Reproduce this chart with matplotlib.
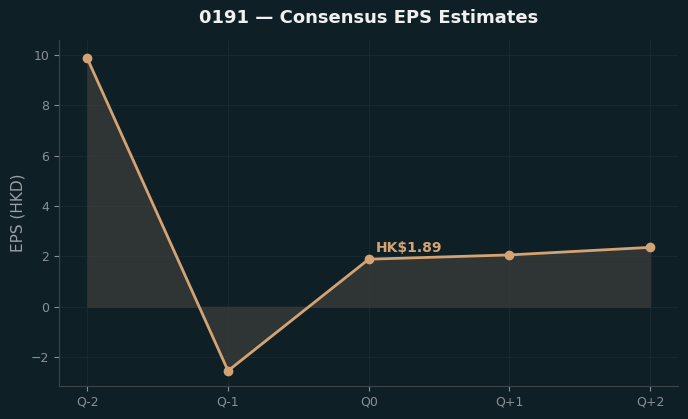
import matplotlib
matplotlib.use("Agg")
import matplotlib.pyplot as plt

quarters = ["Q-2", "Q-1", "Q0", "Q+1", "Q+2"]
eps = [9.86, -2.54, 1.89, 2.06, 2.36]
title = "0191 \u2014 Consensus EPS Estimates"
ylabel = "EPS (HKD)"
annot = "HK$1.89"

bg = "#0f1f26"
line_c = "#d4a373"
fig, ax = plt.subplots(figsize=(6.88, 4.19), dpi=100)
fig.patch.set_facecolor(bg)
ax.set_facecolor(bg)

x = list(range(len(quarters)))
ax.fill_between(x, eps, 0, color="#4a4640", alpha=0.55, linewidth=1, edgecolor="#3a3a36")
ax.plot(x, eps, color=line_c, linewidth=2, marker="o", markersize=6)
ax.annotate(annot, (2, eps[2]), xytext=(5, 5), textcoords="offset points",
            color=line_c, fontsize=10, fontweight="bold")

ax.set_xticks(x)
ax.set_xticklabels(quarters)
ax.set_ylim(-3.14, 10.6)
ax.set_ylabel(ylabel, color="#9aa0a4", fontsize=11)
ax.set_title(title, color="#f0f0f0", fontsize=13, fontweight="bold", pad=12)
ax.tick_params(colors="#8a9094", labelsize=9)
for s in ["top", "right"]:
    ax.spines[s].set_visible(False)
for s in ["left", "bottom"]:
    ax.spines[s].set_color("#3d4447")
ax.grid(True, color="#172830", linewidth=0.8)
ax.set_axisbelow(True)

fig.subplots_adjust(left=0.086, right=0.986, top=0.905, bottom=0.079)
fig.savefig("out.png", dpi=100, facecolor=bg)
